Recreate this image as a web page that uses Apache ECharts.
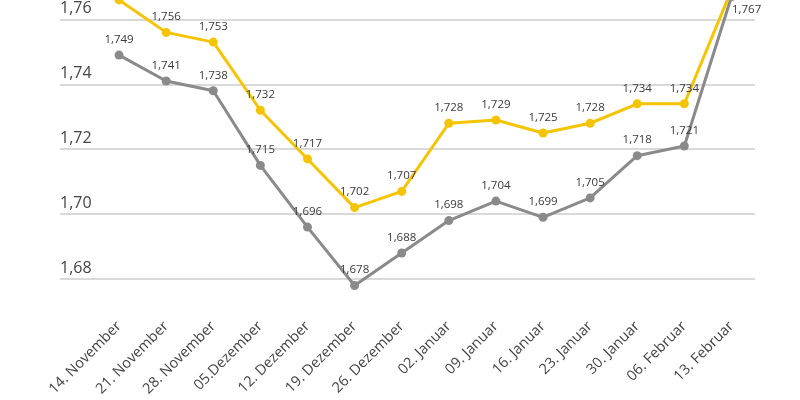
<!DOCTYPE html>
<html><head><meta charset="utf-8">
<script src="https://cdn.jsdelivr.net/npm/echarts@6/dist/echarts.min.js"></script>
<style>html,body{margin:0;padding:0;background:#fff;overflow:hidden}#c{width:800px;height:446px;position:absolute;left:0;top:-46px}</style>
</head><body><div id="c"></div>
<script>
const categories = ['14. November','21. November','28. November','05.Dezember','12. Dezember','19. Dezember','26. Dezember','02. Januar','09. Januar','16. Januar','23. Januar','30. Januar','06. Februar','13. Februar'];
const yellowValues = [1.766,1.756,1.753,1.732,1.717,1.702,1.707,1.728,1.729,1.725,1.728,1.734,1.734,1.769];
const grayValues = [1.749,1.741,1.738,1.715,1.696,1.678,1.688,1.698,1.704,1.699,1.705,1.718,1.721,1.767];
const yMin = 1.68, yMax = 1.78, yStep = 0.02;

const fmt = v => v.toFixed(3).replace('.', ',');
const font = '"Open Sans", "Noto Sans", sans-serif';
const chart = echarts.init(document.getElementById('c'));
const grayData = grayValues.map((v, i) => i === grayValues.length - 1
  ? {value: v, label: {position: 'right', distance: 0, offset: [-4, 13]}}
  : v);
chart.setOption({
  animation: false,
  textStyle: {fontFamily: font},
  grid: [
    {left: 60, right: 45, top: 0.5, bottom: 121, outerBoundsMode: 'none', containLabel: false},
    {left: 95.5, right: 45, top: 0.5, bottom: 121, outerBoundsMode: 'none', containLabel: false}
  ],
  xAxis: [
    {gridIndex: 0, type: 'category', data: categories, show: false},
    {gridIndex: 1, type: 'category', data: categories, boundaryGap: true,
     axisLine: {show: false}, axisTick: {show: false},
     axisLabel: {rotate: 45, interval: 0, margin: 45, fontSize: 14.5, color: '#444', fontFamily: font}}
  ],
  yAxis: [
    {gridIndex: 0, type: 'value', min: yMin, max: yMax, interval: yStep,
     axisLine: {show: false}, axisTick: {show: false},
     splitLine: {lineStyle: {color: '#cccccc', width: 1.5}},
     axisLabel: {inside: true, margin: 0, verticalAlign: 'bottom', padding: [0, 0, 3, 0],
       fontSize: 16, color: '#444', fontFamily: font, formatter: v => v.toFixed(2).replace('.', ',')}},
    {gridIndex: 1, type: 'value', min: yMin, max: yMax, interval: yStep, show: false, splitLine: {show: false}}
  ],
  series: [
    {type: 'line', name: 'gray', xAxisIndex: 1, yAxisIndex: 1, data: grayData, clip: false,
     symbol: 'circle', symbolSize: 9, lineStyle: {width: 3, color: '#8a8a8a'}, itemStyle: {color: '#8a8a8a'},
     label: {show: true, position: 'top', fontSize: 11.5, color: '#3a3a3a', fontFamily: font, formatter: p => fmt(p.value)}},
    {type: 'line', name: 'yellow', xAxisIndex: 1, yAxisIndex: 1, data: yellowValues, clip: false,
     symbol: 'circle', symbolSize: 9, lineStyle: {width: 3, color: '#f5c400'}, itemStyle: {color: '#f5c400'},
     label: {show: true, position: 'top', fontSize: 11.5, color: '#3a3a3a', fontFamily: font, formatter: p => fmt(p.value)}}
  ]
});
</script></body></html>
